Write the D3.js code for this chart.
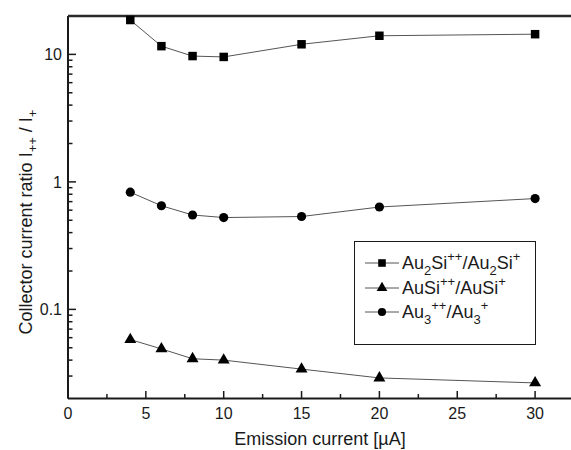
<!DOCTYPE html>
<html>
<head>
<meta charset="utf-8">
<script src="https://cdn.jsdelivr.net/npm/d3@7"></script>
<style>
  html, body { margin: 0; padding: 0; background: #fff; }
  svg { display: block; font-family: "Liberation Sans", Arial, sans-serif; }
</style>
</head>
<body>
<svg id="chart" width="571" height="450"></svg>
<script>
// Emission current (µA) at which each ratio was measured
const emission = [4, 6, 8, 10, 15, 20, 30];
// Collector current ratios I++ / I+
const au2si = [18.6, 11.6, 9.7, 9.55, 12.0, 14.0, 14.4];
const ausi  = [0.058, 0.049, 0.041, 0.040, 0.034, 0.029, 0.0265];
const au3   = [0.83, 0.65, 0.55, 0.525, 0.535, 0.635, 0.74];
// Axis tick labels
const xTicks = [0, 5, 10, 15, 20, 25, 30];
const yTicks = [0.1, 1, 10];

const svg = d3.select("#chart");
const plotLeft = 68, plotTop = 16, plotBottom = 398.5;

const x = d3.scaleLinear().domain([0, 33]).range([plotLeft, plotLeft + 33 * 15.57]);
const y = d3.scaleLog().domain([0.02, 20]).range([plotBottom, plotTop]);

const ink = "#1a1a1a";

// minor ticks
const xMinor = d3.range(2.5, 33, 5);
const yMinor = [];
[0.01, 0.1, 1, 10].forEach(d => { for (let k = 2; k <= 9; k++) { const v = d * k; if (v > 0.02 && v < 20) yMinor.push(v); } });

const g = svg.append("g");

// x axis ticks (pointing inward)
g.selectAll(".xmaj").data(xTicks).join("line")
  .attr("x1", d => x(d)).attr("x2", d => x(d))
  .attr("y1", plotBottom).attr("y2", plotBottom - 7.5)
  .attr("stroke", ink).attr("stroke-width", 1.5);
g.selectAll(".xmin").data(xMinor).join("line")
  .attr("x1", d => x(d)).attr("x2", d => x(d))
  .attr("y1", plotBottom).attr("y2", plotBottom - 4.5)
  .attr("stroke", ink).attr("stroke-width", 1.5);
g.selectAll(".xlab").data(xTicks).join("text")
  .attr("x", d => x(d)).attr("y", plotBottom + 20.5)
  .attr("text-anchor", "middle").attr("font-size", 16).attr("fill", ink)
  .text(d => d);

// y axis ticks
g.selectAll(".ymaj").data(yTicks).join("line")
  .attr("x1", plotLeft).attr("x2", plotLeft + 8)
  .attr("y1", d => y(d)).attr("y2", d => y(d))
  .attr("stroke", ink).attr("stroke-width", 1.5);
g.selectAll(".ymin").data(yMinor).join("line")
  .attr("x1", plotLeft).attr("x2", plotLeft + 4.5)
  .attr("y1", d => y(d)).attr("y2", d => y(d))
  .attr("stroke", ink).attr("stroke-width", 1.5);
g.selectAll(".ylab").data(yTicks).join("text")
  .attr("x", plotLeft - 6).attr("y", d => y(d) + 6)
  .attr("text-anchor", "end").attr("font-size", 16).attr("fill", ink)
  .text(d => d);

// frame: left, bottom, top
g.append("line").attr("x1", plotLeft).attr("x2", plotLeft).attr("y1", plotTop).attr("y2", plotBottom)
  .attr("stroke", ink).attr("stroke-width", 2);
g.append("line").attr("x1", plotLeft).attr("x2", 571).attr("y1", plotBottom).attr("y2", plotBottom)
  .attr("stroke", ink).attr("stroke-width", 2);
g.append("line").attr("x1", plotLeft).attr("x2", 571).attr("y1", plotTop).attr("y2", plotTop)
  .attr("stroke", "#2a2a2a").attr("stroke-width", 2.5);

// series
const series = [
  { name: "au2si", values: au2si, shape: d3.symbolSquare, size: 72 },
  { name: "ausi",  values: ausi,  shape: d3.symbolTriangle, size: 62 },
  { name: "au3",   values: au3,   shape: d3.symbolCircle, size: 66 }
];
const line = d3.line().x(d => x(d[0])).y(d => y(d[1]));

series.forEach(s => {
  const pts = emission.map((e, i) => [e, s.values[i]]);
  g.append("path").datum(pts).attr("d", line)
    .attr("fill", "none").attr("stroke", "#555").attr("stroke-width", 1);
  g.selectAll(".m-" + s.name).data(pts).join("path")
    .attr("transform", d => `translate(${x(d[0])},${y(d[1])})`)
    .attr("d", d3.symbol().type(s.shape).size(s.size)())
    .attr("fill", "#000");
});

// legend
const lg = svg.append("g");
lg.append("rect").attr("x", 354.5).attr("y", 241.5).attr("width", 181).attr("height", 103)
  .attr("fill", "#fff").attr("stroke", ink).attr("stroke-width", 1);
const legendRows = [
  { y: 263, s: series[0], parts: [["Au", 0], ["2", 1], ["Si", 0], ["++", -1], ["/Au", 0], ["2", 1], ["Si", 0], ["+", -1]] },
  { y: 288, s: series[1], parts: [["AuSi", 0], ["++", -1], ["/AuSi", 0], ["+", -1]] },
  { y: 312, s: series[2], parts: [["Au", 0], ["3", 1], ["++", -1], ["/Au", 0], ["3", 1], ["+", -1]] }
];
legendRows.forEach(r => {
  lg.append("line").attr("x1", 365).attr("x2", 399).attr("y1", r.y).attr("y2", r.y)
    .attr("stroke", "#555").attr("stroke-width", 1);
  lg.append("path").attr("transform", `translate(382,${r.y})`)
    .attr("d", d3.symbol().type(r.s.shape).size(r.s.size * 0.8)()).attr("fill", "#000");
  const t = lg.append("text").attr("x", 402).attr("y", r.y + 6)
    .attr("font-size", 18).attr("fill", ink);
  let prev = 0;
  r.parts.forEach(([txt, pos]) => {
    const shift = pos === 1 ? 6 : pos === -1 ? -8 : 0;
    t.append("tspan").attr("dy", shift - prev)
      .attr("font-size", pos === 0 ? 18 : 13).text(txt);
    prev = shift;
  });
});

// axis titles
svg.append("text").attr("x", 320).attr("y", 445).attr("text-anchor", "middle")
  .attr("font-size", 18).attr("fill", ink).text("Emission current [µA]");

const yt = svg.append("text").attr("transform", "translate(32,222) rotate(-90)")
  .attr("text-anchor", "middle").attr("font-size", 18).attr("fill", ink);
yt.append("tspan").text("Collector current ratio I");
yt.append("tspan").attr("dy", 5).attr("font-size", 13).text("++");
yt.append("tspan").attr("dy", -5).text(" / I");
yt.append("tspan").attr("dy", 5).attr("font-size", 13).text("+");
</script>
</body>
</html>
